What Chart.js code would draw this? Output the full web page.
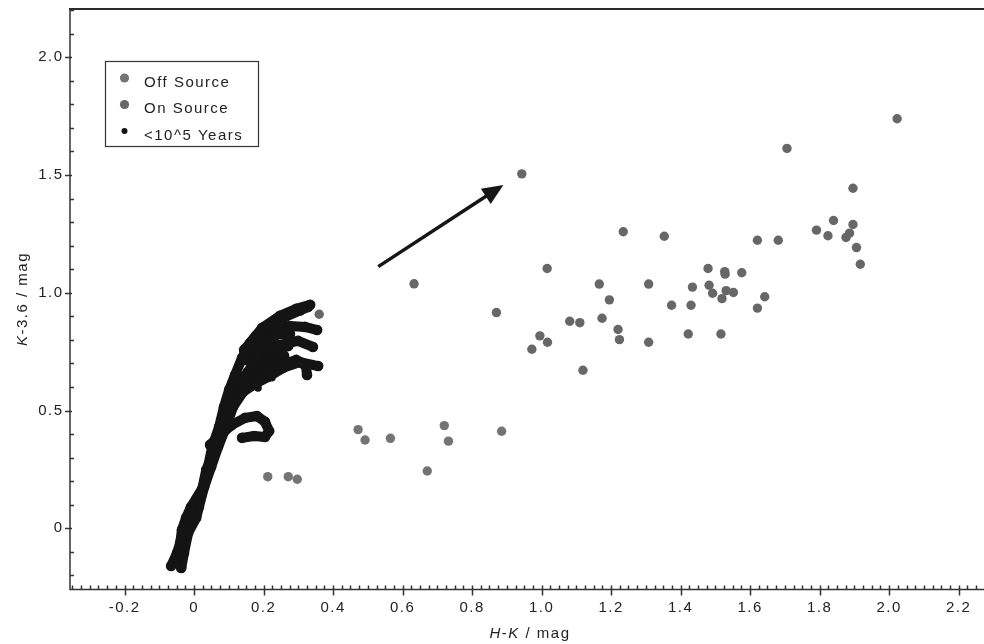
<!DOCTYPE html>
<html>
<head>
<meta charset="utf-8">
<script src="https://cdn.jsdelivr.net/npm/chart.js@4.4.1/dist/chart.umd.min.js"></script>
<style>
  html, body { margin: 0; padding: 0; background: #fff; }
  #wrap { position: relative; width: 984px; height: 644px; }
</style>
</head>
<body>
<div id="wrap"><canvas id="hkChart"></canvas></div>
<script>
// grey sources: H-K and K-3.6 colours (mag)
const onSourceHK = [2.023, 1.706, 1.896, 1.840, 1.896, 1.791, 1.824, 1.886, 1.876, 1.906, 1.917, 1.621, 1.681,
  1.479, 1.527, 1.528, 1.576, 1.434, 1.482, 1.492, 1.531, 1.552, 1.519, 1.642, 1.621, 1.430, 1.422, 1.516,
  1.235, 1.353, 1.016, 1.166, 1.308, 1.195, 1.374, 0.870, 1.174, 1.081, 1.110, 1.220, 1.224, 1.308, 0.995,
  1.017, 0.972, 1.119, 0.943, 0.633, 0.360];
const onSourceK36 = [1.739, 1.613, 1.444, 1.307, 1.290, 1.266, 1.242, 1.253, 1.235, 1.192, 1.121, 1.223, 1.223,
  1.103, 1.090, 1.079, 1.085, 1.024, 1.032, 0.998, 1.009, 1.001, 0.975, 0.983, 0.935, 0.947, 0.825, 0.825,
  1.259, 1.240, 1.103, 1.037, 1.037, 0.970, 0.947, 0.916, 0.892, 0.879, 0.873, 0.844, 0.801, 0.790, 0.817,
  0.790, 0.760, 0.671, 1.505, 1.038, 0.909];
const offSourceHK = [0.212, 0.271, 0.297, 0.472, 0.492, 0.565, 0.720, 0.732, 0.671, 0.885];
const offSourceK36 = [0.219, 0.219, 0.208, 0.419, 0.375, 0.382, 0.436, 0.370, 0.243, 0.412];

// model tracks younger than 10^5 years
const trackA_hk = [-0.066, -0.049, -0.040, -0.035, -0.023, -0.009, 0.026, 0.040, 0.052, 0.072, 0.086, 0.101, 0.118, 0.138, 0.161, 0.196, 0.247, 0.294, 0.334];
const trackA_k36 = [-0.160, -0.105, -0.062, -0.007, 0.044, 0.090, 0.175, 0.260, 0.345, 0.430, 0.515, 0.588, 0.651, 0.723, 0.787, 0.851, 0.902, 0.932, 0.949];
const trackB_hk = [-0.037, -0.029, -0.017, 0.006, 0.014, 0.029, 0.049, 0.069, 0.092, 0.112, 0.141, 0.176, 0.213, 0.256, 0.305, 0.357];
const trackB_k36 = [-0.169, -0.105, -0.020, 0.044, 0.090, 0.175, 0.260, 0.345, 0.430, 0.515, 0.579, 0.613, 0.643, 0.681, 0.706, 0.689];
const trackC_hk = [-0.052, -0.035, -0.023, 0.003, 0.023, 0.035, 0.060, 0.081, 0.098, 0.121, 0.150, 0.184, 0.224, 0.276, 0.319, 0.354];
const trackC_k36 = [-0.135, -0.071, 0.014, 0.099, 0.163, 0.248, 0.333, 0.418, 0.503, 0.566, 0.651, 0.736, 0.808, 0.859, 0.855, 0.842];
const trackD_hk = [0.109, 0.132, 0.167, 0.207, 0.247, 0.299, 0.342];
const trackD_k36 = [0.545, 0.609, 0.681, 0.749, 0.779, 0.796, 0.770];
const trackE_hk = [0.147, 0.184, 0.219, 0.262, 0.305, 0.328];
const trackE_k36 = [0.715, 0.800, 0.855, 0.898, 0.925, 0.940];
const trackF_hk = [0.161, 0.204, 0.253, 0.294, 0.322, 0.325];
const trackF_k36 = [0.630, 0.664, 0.694, 0.715, 0.689, 0.651];
const trackG_hk = [0.046, 0.075, 0.109, 0.147, 0.181, 0.204, 0.216, 0.204, 0.173, 0.138];
const trackG_k36 = [0.354, 0.396, 0.439, 0.469, 0.477, 0.452, 0.413, 0.388, 0.392, 0.384];
const trackH_hk = [0.132, 0.176, 0.219, 0.259];
const trackH_k36 = [0.630, 0.681, 0.706, 0.732];
const trackI_hk = [0.167, 0.204, 0.242, 0.276];
const trackI_k36 = [0.757, 0.800, 0.825, 0.825];
const trackJ_hk = [0.121, 0.155, 0.196, 0.236, 0.271];
const trackJ_k36 = [0.588, 0.664, 0.723, 0.757, 0.774];
const trackK_hk = [0.144, 0.178, 0.213, 0.253];
const trackK_k36 = [0.757, 0.817, 0.842, 0.868];
const strayHK = [0.224, 0.184];
const strayK36 = [0.639, 0.596];

// arrow annotation (data units)
const arrowTail = { hk: 0.530, k36: 1.111 };
const arrowTip = { hk: 0.890, k36: 1.458 };

const legendLabels = ['Off Source', 'On Source', '<10^5 Years'];

const FONT = "'Liberation Sans', Arial, Helvetica, sans-serif";
const OFF_COLOR = '#747474';
const ON_COLOR = '#676767';
const YOUNG_COLOR = '#141414';

function zip(xs, ys) {
  return xs.map((x, i) => ({ x: x, y: ys[i] }));
}

function fmtTick(v) {
  return Math.abs(v) < 1e-9 ? '0' : v.toFixed(1);
}

const tracks = [
  [trackA_hk, trackA_k36], [trackB_hk, trackB_k36], [trackC_hk, trackC_k36],
  [trackD_hk, trackD_k36], [trackE_hk, trackE_k36], [trackF_hk, trackF_k36],
  [trackG_hk, trackG_k36], [trackH_hk, trackH_k36], [trackI_hk, trackI_k36],
  [trackJ_hk, trackJ_k36], [trackK_hk, trackK_k36]
];

const trackSets = tracks.map(([hk, k36]) => ({
  label: legendLabels[2],
  data: zip(hk, k36),
  showLine: true,
  borderColor: YOUNG_COLOR,
  backgroundColor: YOUNG_COLOR,
  borderWidth: 10,
  borderCapStyle: 'round',
  borderJoinStyle: 'round',
  tension: 0,
  pointRadius: 5.3,
  pointBorderWidth: 0,
}));

// ticks, frame, arrow, axis titles and legend box
const framePlugin = {
  id: 'framePlugin',
  beforeDraw(chart) {
    const ctx = chart.ctx;
    ctx.save();
    ctx.fillStyle = '#fff';
    ctx.fillRect(0, 0, chart.width, chart.height);
    ctx.restore();
    ctx.letterSpacing = '1.5px';
  },
  afterDraw(chart) {
    const { ctx, chartArea: a, scales: { x, y } } = chart;
    ctx.save();
    ctx.strokeStyle = '#2a2a2a';
    ctx.lineWidth = 2;
    ctx.beginPath();
    ctx.moveTo(a.left - 1, a.top);
    ctx.lineTo(a.right, a.top);
    ctx.stroke();

    ctx.lineWidth = 1.5;
    ctx.strokeStyle = '#333';
    ctx.beginPath();
    ctx.moveTo(a.left, a.top);
    ctx.lineTo(a.left, a.bottom);
    ctx.lineTo(a.right, a.bottom);
    ctx.stroke();

    // y ticks every 0.1, major every 0.5
    ctx.beginPath();
    for (let i = -2; i <= 22; i++) {
      const py = Math.round(y.getPixelForValue(i / 10)) + 0.5;
      if (py < a.top || py > a.bottom) continue;
      if (i % 5 === 0) {
        ctx.moveTo(a.left - 5, py);
        ctx.lineTo(a.left + 2, py);
      } else {
        ctx.moveTo(a.left, py);
        ctx.lineTo(a.left + 4, py);
      }
    }
    // x ticks every 0.025, major every 0.2
    for (let i = -14; i <= 91; i++) {
      const px = Math.round(x.getPixelForValue(i / 40)) + 0.5;
      if (px < a.left || px > a.right) continue;
      if (i % 8 === 0) {
        ctx.moveTo(px, a.bottom - 4);
        ctx.lineTo(px, a.bottom + 6);
      } else {
        ctx.moveTo(px, a.bottom - 4);
        ctx.lineTo(px, a.bottom);
      }
    }
    ctx.stroke();

    // arrow
    const x0 = x.getPixelForValue(arrowTail.hk), y0 = y.getPixelForValue(arrowTail.k36);
    const x1 = x.getPixelForValue(arrowTip.hk), y1 = y.getPixelForValue(arrowTip.k36);
    const ang = Math.atan2(y1 - y0, x1 - x0);
    const headLen = 21, headHalf = 9;
    const bx = x1 - headLen * Math.cos(ang), by = y1 - headLen * Math.sin(ang);
    ctx.strokeStyle = '#161616';
    ctx.fillStyle = '#161616';
    ctx.lineWidth = 3.5;
    ctx.beginPath();
    ctx.moveTo(x0, y0);
    ctx.lineTo(bx + 3 * Math.cos(ang), by + 3 * Math.sin(ang));
    ctx.stroke();
    ctx.beginPath();
    ctx.moveTo(x1, y1);
    ctx.lineTo(bx + headHalf * Math.sin(ang), by - headHalf * Math.cos(ang));
    ctx.lineTo(bx - headHalf * Math.sin(ang), by + headHalf * Math.cos(ang));
    ctx.closePath();
    ctx.fill();

    // axis titles with italic band names
    const drawParts = (parts, cx, cy) => {
      ctx.textBaseline = 'middle';
      ctx.textAlign = 'left';
      let total = 0;
      parts.forEach(p => {
        ctx.font = (p[1] ? 'italic ' : '') + '15px ' + FONT;
        total += ctx.measureText(p[0]).width;
      });
      let cur = cx - total / 2;
      parts.forEach(p => {
        ctx.font = (p[1] ? 'italic ' : '') + '15px ' + FONT;
        ctx.fillText(p[0], cur, cy);
        cur += ctx.measureText(p[0]).width;
      });
    };
    ctx.fillStyle = '#222';
    drawParts([['H', true], ['-', false], ['K', true], [' / mag', false]], 530, 634);
    ctx.save();
    ctx.translate(23, 299);
    ctx.rotate(-Math.PI / 2);
    drawParts([['K', true], ['-3.6 / mag', false]], 0, 0);
    ctx.restore();

    // legend box
    ctx.lineWidth = 1.2;
    ctx.strokeStyle = '#333';
    ctx.strokeRect(105.5, 61.5, 153, 85);
    const marks = [[OFF_COLOR, 4.6, 78], [ON_COLOR, 4.6, 104.5], [YOUNG_COLOR, 3, 131]];
    ctx.font = '15px ' + FONT;
    ctx.textAlign = 'left';
    ctx.textBaseline = 'middle';
    marks.forEach((m, i) => {
      ctx.fillStyle = m[0];
      ctx.beginPath();
      ctx.arc(124.5, m[2], m[1], 0, Math.PI * 2);
      ctx.fill();
      ctx.fillStyle = '#222';
      ctx.fillText(legendLabels[i], 144, m[2] + 4.5);
    });
    ctx.restore();
    ctx.letterSpacing = '0px';
  }
};

new Chart(document.getElementById('hkChart'), {
  type: 'scatter',
  data: {
    datasets: [
      {
        label: legendLabels[0],
        data: zip(offSourceHK, offSourceK36),
        backgroundColor: OFF_COLOR,
        borderColor: OFF_COLOR,
        pointRadius: 4.7,
        pointBorderWidth: 0,
      },
      {
        label: legendLabels[1],
        data: zip(onSourceHK, onSourceK36),
        backgroundColor: ON_COLOR,
        borderColor: ON_COLOR,
        pointRadius: 4.7,
        pointBorderWidth: 0,
      },
      {
        label: legendLabels[2],
        data: zip(strayHK, strayK36),
        backgroundColor: YOUNG_COLOR,
        borderColor: YOUNG_COLOR,
        pointRadius: 3.8,
        pointBorderWidth: 0,
      },
      ...trackSets,
    ],
  },
  options: {
    responsive: true,
    maintainAspectRatio: false,
    animation: false,
    layout: { autoPadding: false, padding: { top: 9, right: 0, left: 0, bottom: 0 } },
    plugins: {
      legend: { display: false },
      tooltip: { enabled: false },
    },
    scales: {
      x: {
        type: 'linear',
        min: -0.357,
        max: 2.273,
        grid: { display: false, drawTicks: false },
        border: { display: false },
        ticks: {
          stepSize: 0.2,
          includeBounds: false,
          autoSkip: false,
          maxRotation: 0,
          padding: 9,
          color: '#222',
          font: { family: FONT, size: 15 },
          callback: fmtTick,
        },
        afterFit: s => {
          s.height = 54.5;
          s.paddingLeft = 0;
          s.paddingRight = 0;
        },
      },
      y: {
        type: 'linear',
        min: -0.26,
        max: 2.205,
        grid: { display: false, drawTicks: false },
        border: { display: false },
        ticks: {
          stepSize: 0.5,
          includeBounds: false,
          padding: 6.5,
          color: '#222',
          font: { family: FONT, size: 15 },
          callback: fmtTick,
        },
        afterFit: s => {
          s.width = 70;
          s.paddingTop = 0;
          s.paddingBottom = 0;
        },
      },
    },
  },
  plugins: [framePlugin],
});
</script>
</body>
</html>
